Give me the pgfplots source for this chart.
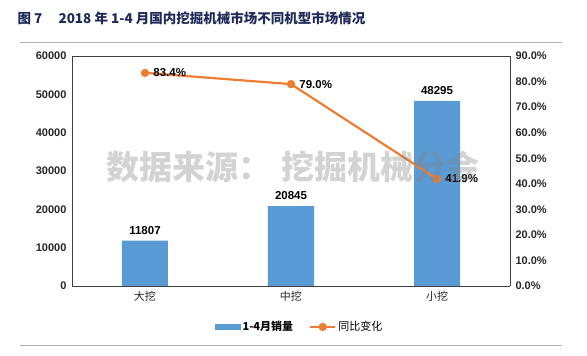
\documentclass[border=0pt]{standalone}
\usepackage{pgfplots}
\pgfplotsset{compat=1.18}
\usepackage{fontspec}
\setmainfont{Liberation Sans}
\newfontfamily\cjk{Noto Sans CJK SC}
\definecolor{barblue}{HTML}{5B9BD5}
\definecolor{lineorange}{HTML}{ED7D31}
\definecolor{titlenavy}{HTML}{1F2A5A}
\definecolor{ticktext}{HTML}{262626}
\begin{document}
\begin{tikzpicture}
% outer frame lines
\draw[gray!60, line width=0.8pt] (20pt,314pt) -- (562pt,314pt);
\draw[gray!60, line width=0.8pt] (20pt,11pt) -- (562pt,11pt);
% title
\node[anchor=west, text=titlenavy, font=\cjk\bfseries\fontsize{13.5}{15}\selectfont] at (14pt,338pt) {图 7\hspace{1.2em}2018 年 1-4 月国内挖掘机械市场不同机型市场情况};
\begin{axis}[
  at={(72pt,70pt)}, anchor=south west,
  scale only axis, width=438pt, height=230pt,
  xmin=-0.5, xmax=2.5, ymin=0, ymax=60000,
  xtick={0,1,2}, xticklabels={大挖,中挖,小挖},
  ytick={0,10000,...,60000},
  scaled y ticks=false,
  /pgf/number format/1000 sep={},
  /pgf/number format/assume math mode=true,
  x tick label style={font=\cjk\fontsize{11}{12}\selectfont, text=ticktext, yshift=-2pt},
  y tick label style={font=\bfseries\fontsize{11}{12}\selectfont, text=ticktext, xshift=-2pt},
  major tick length=0pt,
  axis line style={draw=black!75, line width=0.8pt},
  axis y line*=left,
  axis x line*=bottom,
  clip=false,
]
\addplot[ybar, bar width=46pt, fill=barblue, draw=none,
  nodes near coords, every node near coord/.append style={font=\bfseries\fontsize{11.5}{12}\selectfont, text=black, yshift=3pt},
  /pgf/number format/1000 sep={}]
  coordinates {(0,11807) (1,20845) (2,48295)};
\end{axis}
\begin{axis}[
  at={(72pt,70pt)}, anchor=south west,
  scale only axis, width=438pt, height=230pt,
  xmin=-0.5, xmax=2.5, ymin=0, ymax=90,
  xtick=\empty,
  ytick={0,10,...,90},
  yticklabel={\pgfmathprintnumber[fixed,fixed zerofill,precision=1]{\tick}\%},
  /pgf/number format/assume math mode=true,
  y tick label style={font=\bfseries\fontsize{11}{12}\selectfont, text=ticktext, xshift=2pt},
  major tick length=0pt,
  axis line style={draw=black!75, line width=0.8pt},
  axis y line*=right,
  axis x line*=top,
  clip=false,
  legend style={at={(0.52,-0.178)}, anchor=center, draw=none, fill=none,
    legend columns=2, font=\cjk\fontsize{11}{12}\selectfont,
    /tikz/every even column/.append style={column sep=14pt}},
]
\addlegendimage{legend image code/.code={\fill[barblue] (0pt,-2.5pt) rectangle (25pt,2.5pt);}}
\addlegendentry{\bfseries 1-4月销量}
\addplot[color=lineorange, line width=2.2pt, mark=*, mark size=3pt,
  mark options={fill=lineorange, draw=lineorange},
  nodes near coords={\pgfmathprintnumber[fixed,fixed zerofill,precision=1]{\pgfplotspointmeta}\%},
  every node near coord/.append style={anchor=west, xshift=4pt, font=\bfseries\fontsize{11.5}{12}\selectfont, text=black},
  legend image code/.code={\draw[lineorange, line width=2.2pt] (0pt,0pt) -- (25pt,0pt); \fill[lineorange] (12.5pt,0pt) circle (3pt);}]
  coordinates {(0,83.4) (1,79.0) (2,41.9)};
\addlegendentry{同比变化}
\end{axis}
% watermark on top
\node[text=gray, text opacity=0.35, font=\cjk\bfseries\fontsize{33}{36}\selectfont] at (293pt,189pt) {数据来源：\hspace{0.3em}挖掘机械分会};
\pgfresetboundingbox
\useasboundingbox (0pt,0pt) rectangle (587pt,356pt);
\end{tikzpicture}
\end{document}
